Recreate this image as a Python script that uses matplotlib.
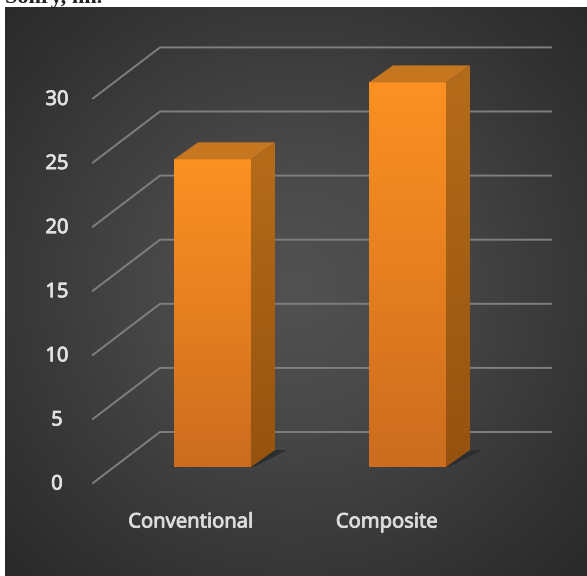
import numpy as np
import matplotlib
matplotlib.use("Agg")
import matplotlib.pyplot as plt
import matplotlib.patheffects as pe
from matplotlib.patches import Polygon, Rectangle
from matplotlib.colors import LinearSegmentedColormap

categories = ["Conventional", "Composite"]
values = [24, 30]
ticks = [0, 5, 10, 15, 20, 25, 30]

W, H = 587, 576
fig = plt.figure(figsize=(W / 100, H / 100), dpi=100, facecolor="white")
ax = fig.add_axes([0, 0, 1, 1])
PX = 12.82          # pixels per unit
Y0 = 483            # pixel row of value 0 on the front edge

def py(p):
    return (Y0 - p) / PX

def limits():
    ax.set_xlim(0, W)
    ax.set_ylim((Y0 - H) / PX, Y0 / PX)

limits()
ax.axis("off")
thick = [pe.withStroke(linewidth=0.6, foreground="#dedede")]

# panel background, radial gradient
panel = (5, 7, 587, 576)
yy, xx = np.mgrid[0:panel[3] - panel[1], 0:panel[2] - panel[0]]
cx, cy = 295, 285
r = np.hypot((xx + panel[0] - cx) / 410, (yy + panel[1] - cy) / 410)
cmap = LinearSegmentedColormap.from_list("bg", ["#525252", "#484848", "#383838", "#292929"])
ax.imshow(np.clip(r, 0, 1), cmap=cmap, vmin=0, vmax=1, aspect="auto", zorder=0,
          extent=[panel[0], panel[2], py(panel[3]), py(panel[1])], interpolation="bilinear")

# clipped caption above the panel
ax.text(5, py(7.5), "Sonry, nn.", family="Liberation Serif", fontsize=16, fontweight="bold",
        color="#222222", va="bottom", ha="left", zorder=0.5, clip_on=True)
ax.add_patch(Rectangle((0, py(576)), 5, py(7) - py(576), fc="white", ec="none", zorder=0.4))

# gridlines: slanted wall edge + back wall line
DX, DY = 67, 51 / PX
X_FRONT, X_BACK_END = 93, 551
for t in ticks:
    ax.plot([X_FRONT, X_FRONT + DX, X_BACK_END], [t, t + DY, t + DY],
            color="#7f7f7f", lw=1.4, zorder=1, solid_joinstyle="miter")
    ax.text(57, t - 0.12, str(t), color="#e2e2e2", fontsize=14.5,
            family="Noto Sans", ha="center", va="center", zorder=5, path_effects=thick)

# 3D bars
BAR_W = 77
LEFTS = [174, 369]
LABEL_X = [191, 387]
BASE = py(467)
BX, BY = 24, 17 / PX
front_cm = LinearSegmentedColormap.from_list("front", ["#cb6c1f", "#e57f20", "#fb9023"])
side_cm = LinearSegmentedColormap.from_list("side", ["#95530f", "#b56c1a"])
for left, name, v, lx in zip(LEFTS, categories, values, LABEL_X):
    top = BASE + v
    # floor shadow
    ax.add_patch(Polygon([(left - 5, BASE), (left + BAR_W + 3, BASE),
                          (left + BAR_W + BX + 12, BASE + BY), (left + BAR_W + 5, BASE + BY)],
                         fc="#2b2d30", ec="none", zorder=2))
    ax.imshow(np.linspace(1, 0, 64).reshape(-1, 1), cmap=front_cm, aspect="auto", zorder=3,
              extent=[left, left + BAR_W, BASE, top], interpolation="bilinear")
    side = ax.imshow(np.linspace(1, 0, 64).reshape(-1, 1), cmap=side_cm, aspect="auto", zorder=3,
                     extent=[left + BAR_W, left + BAR_W + BX, BASE, top + BY],
                     interpolation="bilinear")
    side_clip = Polygon([(left + BAR_W, BASE), (left + BAR_W + BX, BASE + BY),
                         (left + BAR_W + BX, top + BY), (left + BAR_W, top)],
                        fc="none", ec="none", transform=ax.transData)
    ax.add_patch(side_clip)
    side.set_clip_path(side_clip)
    ax.add_patch(Polygon([(left, top), (left + BAR_W, top),
                          (left + BAR_W + BX, top + BY), (left + BX, top + BY)],
                         fc="#c5761f", ec="none", zorder=3))
    ax.text(lx, py(522.5), name, color="#dcdcdc", fontsize=14.5, family="Noto Sans",
            ha="center", va="center", zorder=5, path_effects=thick)
limits()
fig.savefig("out.png", dpi=100, facecolor="white")
